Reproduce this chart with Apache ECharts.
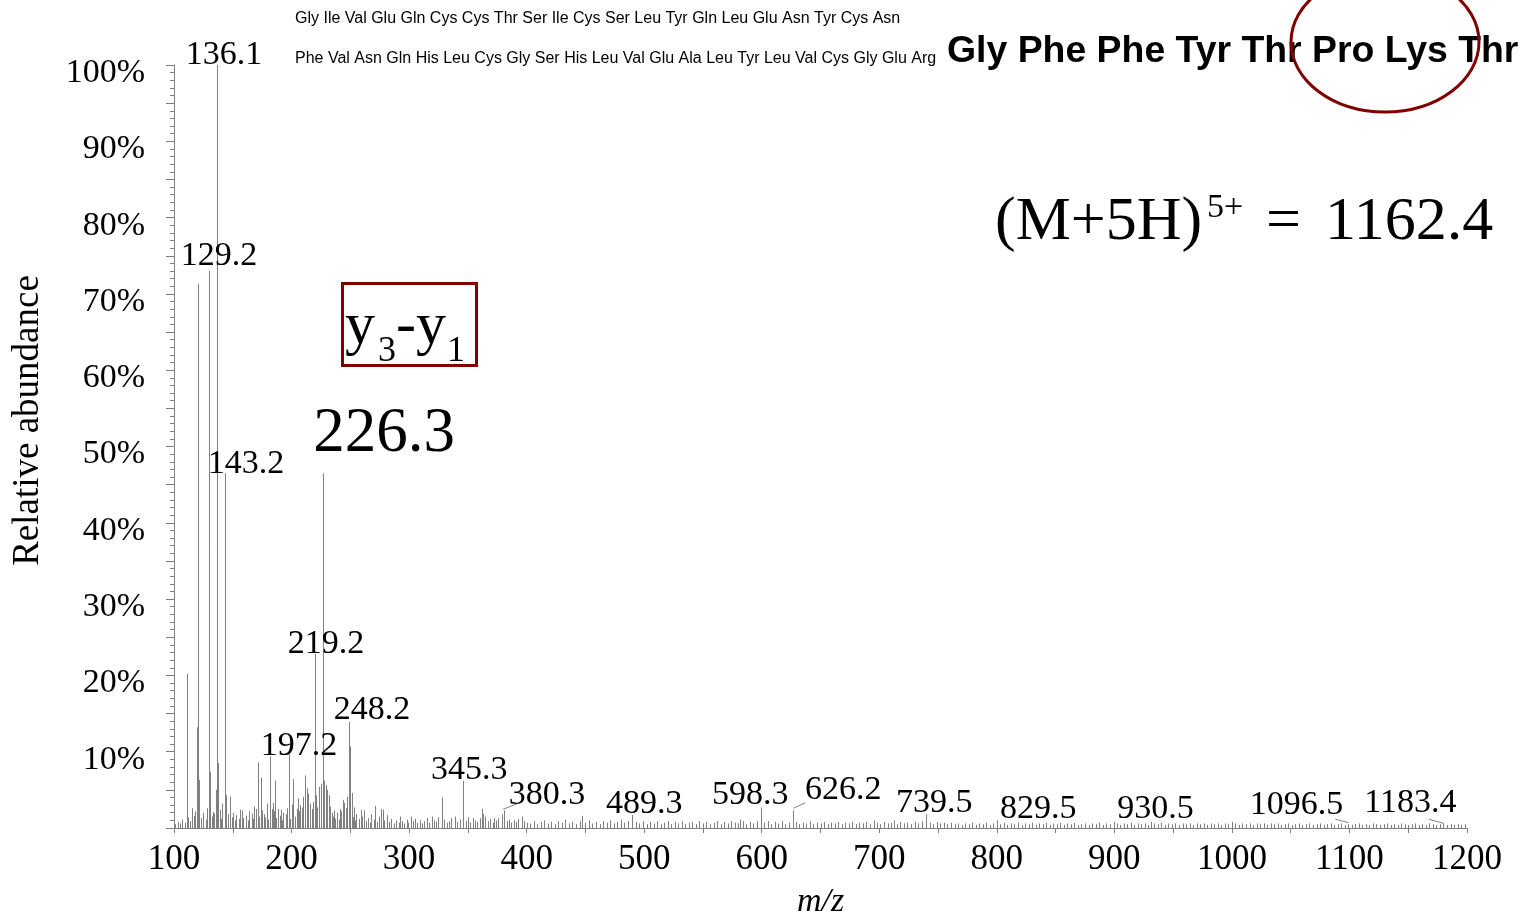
<!DOCTYPE html>
<html><head><meta charset="utf-8">
<script src="https://cdn.jsdelivr.net/npm/echarts@6/dist/echarts.min.js"></script>
<style>html,body{margin:0;padding:0;background:#fff;overflow:hidden}#c{width:1522px;height:914px}</style>
</head><body><div id="c"></div><script>
// ---------- DATA ----------
// Main ion peaks [m/z, relative abundance %]
const majorPeaks = [[110.8,20.2],[115,2.6],[119.9,13.2],[120.7,71.3],[121.2,6.3],[129.8,73.0],[130.9,7.3],[132.9,2.1],[135.7,5.0],[136.6,100],[137.2,8.5],[143.1,46.5],[144.3,4.3],[147.7,4.1],[156.2,2.4],[157.6,2.3],[164.1,2.2],[169.8,2.5],[171.8,8.6],[173.8,6.6],[176.6,1.8],[178.9,3.2],[181.4,9.4],[183.7,2.5],[184.2,3.3],[186.2,6.2],[188.8,2.5],[193,2.0],[197.6,9.7],[201.6,6.4],[204.9,2.5],[205.8,3.9],[208.7,2.7],[209.5,4.1],[211.5,6.9],[212.9,5.2],[214.3,4.5],[215.7,3.2],[219.7,22.8],[220.9,4.3],[223.7,5.4],[225.1,5.8],[226.8,46.5],[227.7,6.2],[229.1,5.6],[230.5,5.0],[231.6,4.3],[234.2,2.0],[238.4,2.0],[241.3,2.5],[243.6,3.7],[245,3.3],[247.6,4.1],[248.9,13.9],[249.8,10.7],[251.2,4.6],[258.9,2.4],[261.7,2.3],[271.1,2.9],[276,2.5],[277.6,2.4],[292.3,1.5],[301.4,1.5],[319.3,1.5],[327.8,4.0],[339.1,1.5],[346.2,6.2],[354.2,1.3],[361.9,2.5],[363.2,1.8],[372.3,1.3],[378.9,1.8],[380.9,2.3],[395.9,1.5],[447,1.6],[490,1.7],[581.7,1.1],[599.6,2.7],[627,2.3],[695.1,1.0],[712.2,1.0],[740,1.8],[800.2,1.0],[900,0.8],[931.2,0.8],[1000,0.8]];

// Baseline noise sticks [m/z, %]
const noisePeaks = [[101,0.5],[103,0.8],[105,0.6],[107,1.1],[109,0.7],[112,1.4],[114,0.9],[117,1.6],[118,2.2],[123,1.3],[125,2.0],[127,1.1],[128,2.6],[132,1.5],[134,1.9],[139,2.4],[140,1.2],[141,3.2],[146,1.8],[149,1.4],[150,2.0],[152,1.0],[153,1.7],[155,1.2],[158,2.1],[159,1.3],[161,1.6],[163,1.0],[166,1.9],[167,1.2],[168,2.8],[172,1.5],[175,2.3],[177,1.4],[179,2.0],[180,1.1],[182,1.7],[185,2.2],[187,1.3],[190,1.6],[191,2.4],[192,1.0],[195,1.8],[196,2.6],[199,1.2],[200,3.1],[203,1.5],[206,2.2],[207,3.0],[210,1.7],[213,2.9],[216,1.9],[217,2.5],[218,3.4],[222,2.7],[233,2.8],[235,1.5],[236,2.3],[237,1.2],[239,1.9],[240,1.1],[242,2.2],[246,2.6],[250,2.2],[252,1.4],[253,2.7],[254,1.0],[255,1.8],[257,1.2],[260,1.5],
[263,0.9],[265,1.3],[267,0.7],[268,1.8],[270,1.1],[273,0.8],[274,1.5],[279,1.0],[281,1.7],[283,0.8],[285,1.2],[287,0.6],[289,1.0],[291,0.7],[294,0.9],[296,0.6],[298,1.1],[299,0.7],[303,0.9],[305,1.2],[307,0.7],[309,1.0],[311,0.6],[313,0.9],[315,1.3],[317,0.7],[321,1.0],[323,0.8],[325,1.4],[330,1.1],[332,0.7],[334,0.9],[336,1.3],[341,0.8],[343,1.1],[348,0.9],[350,1.4],[352,0.7],[356,1.0],[358,0.8],[360,1.3],[365,1.5],[367,0.9],[369,1.2],[371,0.7],[374,1.0],[376,1.3],[383,0.9],[385,1.1],[387,0.7],[389,1.0],[391,0.8],[393,1.2],[398,0.9],[400,0.7],
[403,0.6],[406,0.9],[409,0.5],[412,0.8],[415,1.0],[418,0.6],[421,0.8],[424,0.5],[427,0.9],[430,0.7],[433,1.1],[436,0.6],[439,0.8],[442,0.5],[445,0.9],[450,0.7],[453,1.0],[456,0.6],[459,0.8],[462,0.5],[465,0.9],[468,0.7],[471,1.0],[474,0.6],[477,0.8],[480,1.1],[483,0.7],[486,0.9],[493,0.8],[496,0.6],[499,0.9],[502,0.5],[505,0.8],[508,0.6],[511,0.9],[514,0.5],[517,0.7],[520,0.9],[523,0.5],[526,0.8],[529,0.6],[532,0.9],[535,0.5],[538,0.7],[541,0.8],[544,0.5],[547,0.9],[550,0.6],[553,0.8],[556,0.5],[559,0.7],[562,0.9],[565,0.5],[568,0.8],[571,0.6],[574,0.9],[577,0.7],[580,0.6],[584,0.9],[587,0.5],[590,0.8],[593,0.6],[596,0.9],[602,0.7],[605,0.9],[608,0.5],[611,0.8],[614,0.6],[617,0.9],[620,0.5],[623,0.7],[629,0.8],[632,0.5],[635,0.7],[638,0.6],[641,0.9],[644,0.5],[647,0.7],[650,0.6],[653,0.8],[656,0.5],[659,0.7],[662,0.6],[665,0.8],[668,0.5],[671,0.7],[674,0.6],[677,0.8],[680,0.5],[683,0.7],[686,0.6],[689,0.8],[692,0.5],[698,0.7],[701,0.5],[704,0.8],[707,0.6],[710,0.7],[715,0.5],[718,0.8],[721,0.6],[724,0.7],[727,0.5],[730,0.8],[733,0.6],[736,0.9],[743,0.7],[746,0.5],[749,0.8],[752,0.6],[755,0.7],[758,0.5],[761,0.7],[764,0.5],[767,0.6],[770,0.4],[773,0.6],[776,0.5],[779,0.7],[782,0.4],[785,0.6],[788,0.5],[791,0.7],[794,0.4],[797,0.6],[803,0.5],[806,0.7],[809,0.4],[812,0.6],[815,0.5],[818,0.7],[821,0.4],[824,0.6],[827,0.5],[830,0.7],[833,0.4],[836,0.6],[839,0.5],[842,0.7],[845,0.4],[848,0.6],[851,0.5],[854,0.7],[857,0.4],[860,0.6],[863,0.5],[866,0.7],[869,0.4],[872,0.5],[875,0.6],[878,0.4],[881,0.6],[884,0.5],[887,0.7],[890,0.4],[893,0.6],[896,0.5],[902,0.6],[905,0.4],[908,0.6],[911,0.5],[914,0.7],[917,0.4],[920,0.6],[923,0.5],[926,0.6],[929,0.4],[934,0.6],[937,0.5],[940,0.7],[943,0.4],[946,0.6],[949,0.5],[952,0.6],[955,0.4],[958,0.6],[961,0.5],[964,0.6],[967,0.4],[970,0.6],[973,0.5],[976,0.6],[979,0.4],[982,0.6],[985,0.5],[988,0.6],[991,0.4],[994,0.6],[997,0.5],[1003,0.6],[1006,0.4],[1009,0.6],[1012,0.5],[1015,0.6],[1018,0.4],[1021,0.6],[1024,0.5],[1027,0.6],[1030,0.4],[1033,0.6],[1036,0.5],[1039,0.6],[1042,0.4],[1045,0.5],[1048,0.6],[1051,0.4],[1054,0.5],[1057,0.6],[1060,0.4],[1063,0.5],[1066,0.6],[1069,0.4],[1072,0.5],[1075,0.6],[1078,0.4],[1081,0.5],[1084,0.6],[1087,0.4],[1090,0.5],[1093,0.6],[1096,0.4],[1099,0.5],[1102,0.4],[1105,0.5],[1108,0.6],[1111,0.4],[1114,0.5],[1117,0.4],[1120,0.6],[1123,0.5],[1126,0.4],[1129,0.5],[1132,0.6],[1135,0.4],[1138,0.5],[1141,0.4],[1144,0.6],[1147,0.5],[1150,0.4],[1153,0.5],[1156,0.6],[1159,0.4],[1162,0.5],[1165,0.4],[1168,0.6],[1171,0.5],[1174,0.4],[1177,0.5],[1180,0.6],[1183,0.4],[1186,0.5],[1189,0.4],[1192,0.5],[1195,0.4],[1198,0.5]];

// Peak label texts
const peakLabelTexts = ['136.1','129.2','143.2','226.3','219.2','248.2','197.2','345.3','380.3','489.3','598.3','626.2','739.5','829.5','930.5','1096.5','1183.4'];
// Y tick labels
const yTickLabels = ['10%','20%','30%','40%','50%','60%','70%','80%','90%','100%'];
// Sequence texts
const seqLine1 = 'Gly Ile Val Glu Gln Cys Cys Thr Ser Ile Cys Ser Leu Tyr Gln Leu Glu Asn Tyr Cys Asn';
const seqLine2 = 'Phe Val Asn Gln His Leu Cys Gly Ser His Leu Val Glu Ala Leu Tyr Leu Val Cys Gly Glu Arg';
const seqTail = 'Gly Phe Phe Tyr Thr Pro Lys Thr';

// ---------- LAYOUT ----------
const SERIF = '"Liberation Serif","Times New Roman",serif';
const SANS = '"Liberation Sans",Arial,sans-serif';
const DARKRED = '#800000';
const GRAY = '#808080';
// label anchor (data coords) for each peak label, in the same order as peakLabelTexts
const labelAnchors = [[142.6,101.3],[138.3,75.0],[161.3,47.7],[278.7,51.6],[229.4,24.1],[268.5,15.5],[206.4,10.7],[351.1,7.6],[417.4,4.3],[500,3.1],[590.2,4.3],[669.4,5.0],[746.8,3.3],[835.3,2.5],[934.9,2.5],[1054.9,3.0],[1151.9,3.3]];
const labelSizes = peakLabelTexts.map(t => t === '226.3' ? 63 : 34);
const leaders = [
  [[380.0,2.45],[391.4,3.15]],
  [[627.1,2.6],[637.0,3.3]],
  [[1088.1,1.15],[1099.4,0.7]],
  [[1167.5,1.15],[1180.3,0.6]]
];

const chart = echarts.init(document.getElementById('c'), null, { renderer: 'canvas', width: 1522, height: 914 });

function stickRender(params, api) {
  const x = api.value(0), y = api.value(1);
  const p0 = api.coord([x, 0]);
  const p1 = api.coord([x, y]);
  const px = Math.round(p0[0]) + 0.5;
  return { type: 'line', shape: { x1: px, y1: p0[1], x2: px, y2: p1[1] },
    style: { stroke: GRAY, lineWidth: 1 } };
}
function labelRender(params, api) {
  const p = api.coord([api.value(0), api.value(1)]);
  const i = params.dataIndex;
  return { type: 'text', x: p[0], y: p[1],
    style: { text: peakLabelTexts[i], font: labelSizes[i] + 'px ' + SERIF, fill: '#000', align: 'center', verticalAlign: 'middle' } };
}

const option = {
  animation: false,
  backgroundColor: '#fff',
  grid: { left: 174, right: 55, top: 65, bottom: 86, containLabel: false, outerBoundsMode: 'none' },
  xAxis: {
    type: 'value', min: 100, max: 1200, interval: 100,
    axisLine: { show: true, lineStyle: { color: GRAY, width: 1 } },
    axisTick: { show: true, length: 5, lineStyle: { color: GRAY } },
    minorTick: { show: true, splitNumber: 2, length: 5, lineStyle: { color: GRAY } },
    splitLine: { show: false },
    axisLabel: { color: '#000', fontFamily: SERIF, fontSize: 35, margin: 14, formatter: v => String(v) },
    name: 'm/z', nameLocation: 'middle', nameGap: 57,
    nameTextStyle: { color: '#000', fontFamily: SERIF, fontSize: 34, fontStyle: 'italic' }
  },
  yAxis: {
    type: 'value', min: 0, max: 100, interval: 5,
    axisLine: { show: true, lineStyle: { color: GRAY, width: 1 } },
    axisTick: { show: true, length: 8, lineStyle: { color: GRAY } },
    minorTick: { show: true, splitNumber: 5, length: 4, lineStyle: { color: GRAY } },
    splitLine: { show: false },
    axisLabel: {
      color: '#000', fontFamily: SERIF, fontSize: 34, margin: 29, verticalAlign: 'top', lineHeight: 16,
      formatter: v => (v > 0 && v % 10 === 0) ? yTickLabels[v / 10 - 1] : ''
    },
    name: 'Relative abundance', nameLocation: 'middle', nameGap: 127,
    nameTextStyle: { color: '#000', fontFamily: SERIF, fontSize: 37, padding: [0, 0, 0, 52] }
  },
  series: [
    { type: 'custom', name: 'noise', renderItem: stickRender, data: noisePeaks, clip: false, z: 2 },
    { type: 'custom', name: 'peaks', renderItem: stickRender, data: majorPeaks, clip: false, z: 3 },
    {
      type: 'custom', name: 'labels', renderItem: labelRender, data: labelAnchors, clip: false, z: 5,
      markLine: {
        silent: true, symbol: ['none', 'none'], label: { show: false },
        lineStyle: { color: GRAY, width: 1, type: 'solid' },
        data: leaders.map(l => [{ coord: l[0] }, { coord: l[1] }])
      }
    }
  ],
  graphic: [
    { type: 'text', left: 295, top: 11, z: 10, style: { text: seqLine1, font: '16px ' + SANS, fill: '#000' } },
    { type: 'text', left: 295, top: 51, z: 10, style: { text: seqLine2, font: '16px ' + SANS, fill: '#000' } },
    { type: 'text', left: 947, top: 33, z: 10, style: { text: seqTail, font: 'bold 37.4px ' + SANS, fill: '#000' } },
    { type: 'ellipse', z: 11, shape: { cx: 1385, cy: 42, rx: 94, ry: 70 }, style: { fill: 'none', stroke: DARKRED, lineWidth: 3 } },
    { type: 'rect', z: 11, shape: { x: 342.5, y: 283.5, width: 134, height: 82 }, style: { fill: 'none', stroke: DARKRED, lineWidth: 3 } },
    { type: 'text', z: 12, x: 345, y: 327, style: { text: 'y', font: '60px ' + SERIF, fill: '#000', verticalAlign: 'middle' } },
    { type: 'text', z: 12, x: 378, y: 352, style: { text: '3', font: '36px ' + SERIF, fill: '#000', verticalAlign: 'middle' } },
    { type: 'text', z: 12, x: 396, y: 327, style: { text: '-y', font: '60px ' + SERIF, fill: '#000', verticalAlign: 'middle' } },
    { type: 'text', z: 12, x: 447, y: 352, style: { text: '1', font: '36px ' + SERIF, fill: '#000', verticalAlign: 'middle' } },
    { type: 'text', z: 12, x: 995, y: 223, style: { text: '(M+5H)', font: '62px ' + SERIF, fill: '#000', verticalAlign: 'middle' } },
    { type: 'text', z: 12, x: 1207, y: 208, style: { text: '5+', font: '34px ' + SERIF, fill: '#000', verticalAlign: 'middle' } },
    { type: 'text', z: 12, x: 1266, y: 223, style: { text: '=', font: '62px ' + SERIF, fill: '#000', verticalAlign: 'middle' } },
    { type: 'text', z: 12, x: 1325, y: 223, style: { text: '1162.4', font: '62px ' + SERIF, fill: '#000', verticalAlign: 'middle' } }
  ]
};
chart.setOption(option);
</script></body></html>
